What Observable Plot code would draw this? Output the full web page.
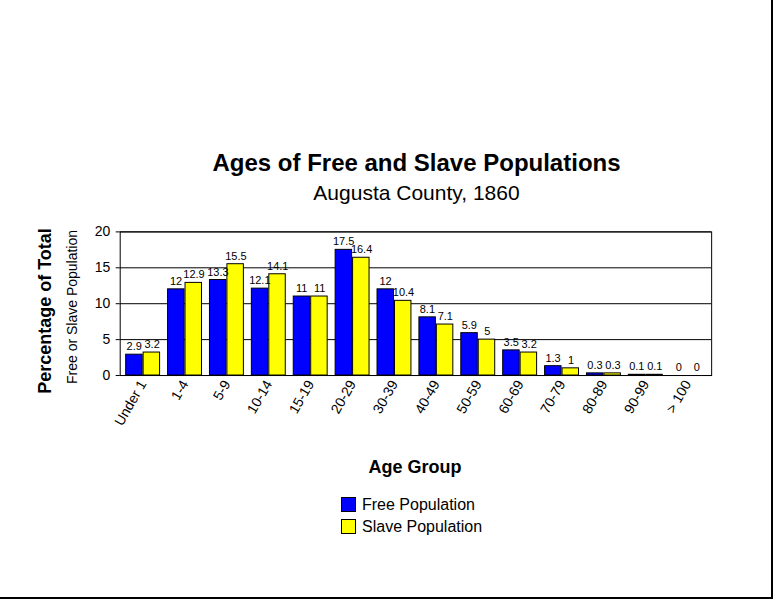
<!DOCTYPE html>
<html>
<head>
<meta charset="utf-8">
<script src="https://cdn.jsdelivr.net/npm/d3@7"></script>
<script src="https://cdn.jsdelivr.net/npm/@observablehq/plot@0.6"></script>
<style>
  body { margin: 0; background: #fff; font-family: "Liberation Sans", Arial, sans-serif; }
  #wrap { position: relative; width: 771px; height: 597px; border-right: 2px solid #000; border-bottom: 2px solid #000; overflow: hidden; }
  #chart { position: absolute; left: 0; top: 0; }
  .t { position: absolute; white-space: nowrap; color: #000; }
  .sw { position: absolute; width: 13px; height: 13px; border: 1px solid #000; }
</style>
</head>
<body>
<div id="wrap">
  <div id="chart"></div>
  <div class="t" style="left:0;width:833px;text-align:center;top:149px;font-size:24px;font-weight:bold;">Ages of Free and Slave Populations</div>
  <div class="t" style="left:0;width:833px;text-align:center;top:181px;font-size:21px;">Augusta County, 1860</div>
  <div class="t" style="left:45px;top:311px;transform:translate(-50%,-50%) rotate(-90deg);font-size:18px;font-weight:bold;">Percentage of Total</div>
  <div class="t" style="left:72px;top:307px;transform:translate(-50%,-50%) rotate(-90deg);font-size:14px;">Free or Slave Population</div>
  <div class="t" style="left:0;width:830px;text-align:center;top:457px;font-size:18px;font-weight:bold;">Age Group</div>
  <div class="sw" style="left:341px;top:497px;background:#0000ff;"></div>
  <div class="t" style="left:362px;top:496px;font-size:16px;">Free Population</div>
  <div class="sw" style="left:341px;top:519px;background:#ffff00;"></div>
  <div class="t" style="left:362px;top:518px;font-size:16px;">Slave Population</div>
</div>
<script>
const ages = ["Under 1", "1-4", "5-9", "10-14", "15-19", "20-29", "30-39", "40-49", "50-59", "60-69", "70-79", "80-89", "90-99", "> 100"];
const freePop = [2.9, 12, 13.3, 12.1, 11, 17.5, 12, 8.1, 5.9, 3.5, 1.3, 0.3, 0.1, 0];
const slavePop = [3.2, 12.9, 15.5, 14.1, 11, 16.4, 10.4, 7.1, 5, 3.2, 1, 0.3, 0.1, 0];
const yTicks = [0, 5, 10, 15, 20];

const free = ages.map((age, i) => ({age, value: freePop[i]}));
const slave = ages.map((age, i) => ({age, value: slavePop[i]}));

const chart = Plot.plot({
  width: 773,
  height: 600,
  marginLeft: 120,
  marginRight: 60,
  marginTop: 232,
  marginBottom: 224,
  style: {fontFamily: "Liberation Sans, Arial, sans-serif", background: "white", color: "#000"},
  x: {domain: ages, paddingInner: 0.18, paddingOuter: 0.09, label: null},
  y: {domain: [0, 20], label: null},
  marks: [
    Plot.ruleY(yTicks, {stroke: "#000"}),
    Plot.frame({stroke: "#000"}),
    Plot.barY(free, {x: "age", y: "value", fill: "#0000ff", stroke: "#000", insetRight: 17.5}),
    Plot.barY(slave, {x: "age", y: "value", fill: "#ffff00", stroke: "#000", insetLeft: 17.5}),
    Plot.text(free, {x: "age", y: "value", text: "value", dx: -9, dy: -8, fontSize: 11}),
    Plot.text(slave, {x: "age", y: "value", text: "value", dx: 9, dy: -8, fontSize: 11}),
    Plot.axisY(yTicks, {tickSize: 4, fontSize: 14, tickPadding: 6}),
    Plot.axisX({tickRotate: -60, tickSize: 0, fontSize: 14, tickPadding: 6})
  ]
});
document.getElementById("chart").append(chart);
</script>
</body>
</html>
